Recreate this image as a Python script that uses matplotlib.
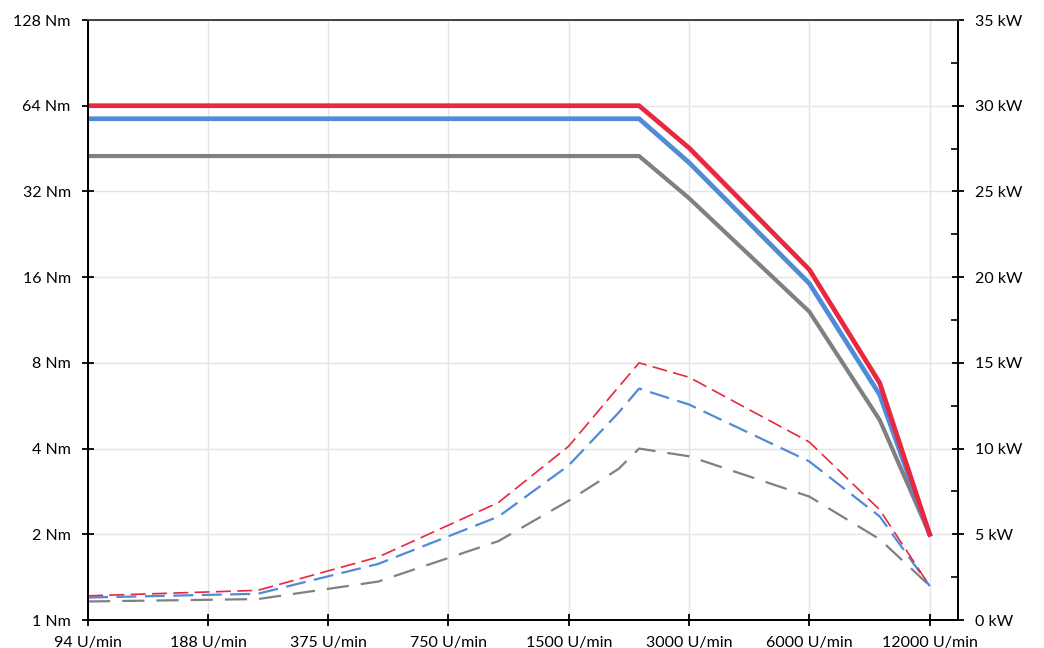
import matplotlib
matplotlib.use('Agg')
import matplotlib.pyplot as plt
from matplotlib.ticker import NullLocator, FixedLocator

plt.rcParams['font.family'] = ['Lato', 'DejaVu Sans']

# speed ticks (U/min)
speedTicks = [94, 188, 375, 750, 1500, 3000, 6000, 12000]
speedLabels = ['94 U/min', '188 U/min', '375 U/min', '750 U/min',
               '1500 U/min', '3000 U/min', '6000 U/min', '12000 U/min']

# torque curves (Nm), solid
torqueRpm = [94, 2250, 3000, 6000, 9000, 12000]
torqueRed = [64, 64, 45.5, 17.0, 6.8, 2.0]
torqueBlue = [57.6, 57.6, 40.4, 15.2, 6.18, 2.0]
torqueGray = [42.6, 42.6, 30.3, 12.1, 5.04, 2.0]

# power curves (kW), dashed
powerRpm = [94, 250, 500, 1000, 1500, 2000, 2250, 3000, 6000, 9000, 12000]
powerRed = [1.41, 1.73, 3.67, 6.85, 10.14, 13.6, 15.0, 14.16, 10.38, 6.43, 1.99]
powerBlue = [1.31, 1.53, 3.27, 6.03, 9.02, 12.1, 13.5, 12.57, 9.25, 6.04, 1.99]
powerGray = [1.08, 1.22, 2.24, 4.6, 6.96, 8.82, 10.0, 9.55, 7.2, 4.71, 2.0]

torqueTicks = [1, 2, 4, 8, 16, 32, 64, 128]
powerTicks = [0, 5, 10, 15, 20, 25, 30, 35]

red = '#e8283f'
blue = '#4f8bd6'
gray = '#808080'

fig = plt.figure(figsize=(10.44, 6.48), dpi=100)
ax = fig.add_axes([88 / 1044, 1 - 620 / 648, (958 - 88) / 1044, 600 / 648])
ax2 = ax.twinx()

# solid torque lines
ax.plot(torqueRpm, torqueGray, color=gray, lw=3.0, solid_joinstyle='miter', zorder=3)
ax.plot(torqueRpm, torqueBlue, color=blue, lw=3.4, solid_joinstyle='miter', zorder=3)
ax.plot(torqueRpm, torqueRed, color=red, lw=3.4, solid_joinstyle='miter', zorder=3)

# dashed power lines
ax2.plot(powerRpm, powerGray, color=gray, lw=1.6, dashes=(10, 5.4))
ax2.plot(powerRpm, powerBlue, color=blue, lw=1.6, dashes=(9, 3.8))
ax2.plot(powerRpm, powerRed, color=red, lw=1.2, dashes=(9, 3.8))

ax.set_xscale('log', base=2)
ax.set_yscale('log', base=2)
ax.set_xlim(94, 14130)
ax.set_ylim(1, 128)
ax2.set_ylim(0, 35)

ax.xaxis.set_major_locator(FixedLocator(speedTicks))
ax.set_xticklabels(speedLabels)
ax.xaxis.set_minor_locator(NullLocator())
ax.yaxis.set_major_locator(FixedLocator(torqueTicks))
ax.set_yticklabels([str(t) + ' Nm' for t in torqueTicks])
ax.yaxis.set_minor_locator(NullLocator())
ax2.set_yticks(powerTicks)
ax2.set_yticklabels([str(t) + ' kW' for t in powerTicks])
ax2.yaxis.set_minor_locator(FixedLocator([2.5, 7.5, 12.5, 17.5, 22.5, 27.5, 32.5]))

ax.grid(True, color='#e4e4e4', lw=1.0)
ax.set_axisbelow(True)

for a in (ax, ax2):
    a.tick_params(which='major', direction='inout', length=9, width=1.3,
                  labelsize=11.5, colors='black')
    for s in a.spines.values():
        s.set_linewidth(1.4)
        s.set_color('black')
    a.spines['top'].set_color('#444444')
ax2.tick_params(which='minor', direction='in', length=5, width=1.2)
ax.tick_params(axis='y', pad=8)
ax2.tick_params(axis='y', pad=8)
ax.tick_params(axis='x', pad=7)

fig.savefig('out.png', dpi=100)
